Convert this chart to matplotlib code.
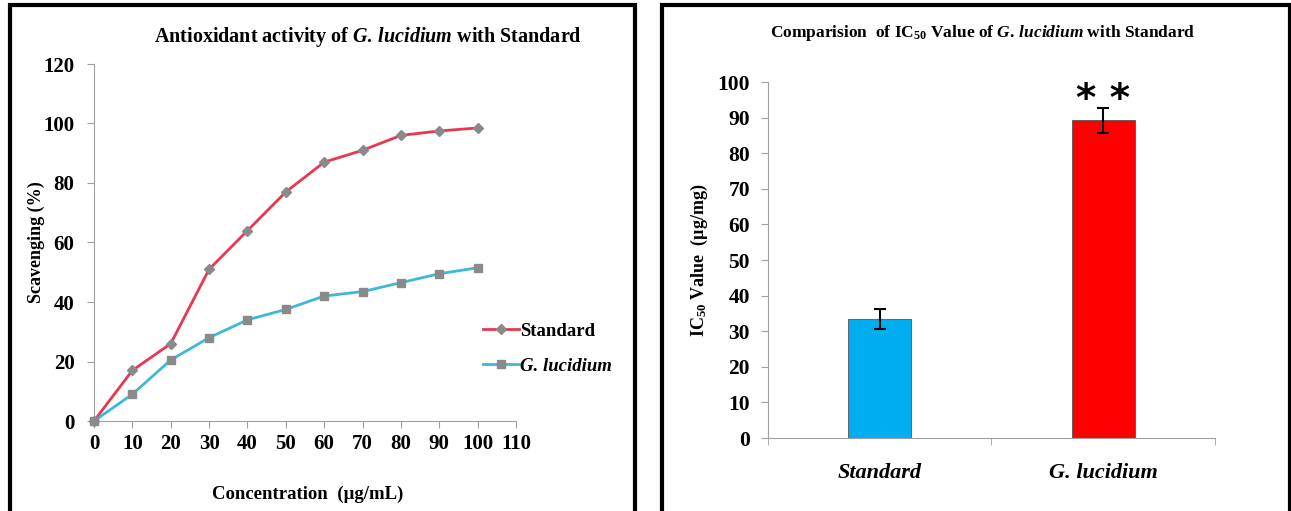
import matplotlib
matplotlib.use("Agg")
import matplotlib.pyplot as plt
from matplotlib.patches import Rectangle

# left panel data: scavenging (%) vs concentration (ug/mL)
conc = [0, 10, 20, 30, 40, 50, 60, 70, 80, 90, 100]
standard = [0, 17, 26, 51, 64, 77, 87, 91, 96, 97.5, 98.5]
lucidium = [0, 9, 20.5, 28, 34, 37.5, 42, 43.5, 46.5, 49.5, 51.5]

# right panel data: IC50 values
groups = ["Standard", "G. lucidium"]
ic50 = [33.4, 89.3]
ic50_err = [2.8, 3.5]
bar_colors = ["#00AEEF", "#FF0000"]

plt.rcParams["font.family"] = ["Liberation Serif", "DejaVu Serif"]
plt.rcParams["font.weight"] = "bold"
plt.rcParams["mathtext.fontset"] = "custom"
plt.rcParams["mathtext.rm"] = "Liberation Serif:weight=bold"
plt.rcParams["mathtext.it"] = "Liberation Serif:style=italic:weight=bold"
plt.rcParams["mathtext.bf"] = "Liberation Serif:weight=bold"

W, H = 1291, 511
fig = plt.figure(figsize=(W / 100, H / 100), dpi=100)


def fx(px):
    return px / W


def fy(py):
    return 1 - py / H


# panel borders
for x0, x1 in [(10, 635), (662, 1290)]:
    fig.patches.append(Rectangle((fx(x0), fy(H + 10)), fx(x1 - x0), (H + 5) / H,
                                 transform=fig.transFigure, fill=False,
                                 edgecolor="black", lw=3))

spine_col = "#a0a0a0"

# ---- left: line chart ----
ax1 = fig.add_axes([fx(94), fy(421), fx(516 - 94), (421 - 64) / H])
ax1.plot(conc, standard, color="#E8384F", lw=2, marker="D", ms=5,
         mfc="#8a8a8a", mec="#8a8a8a", label="Standard", clip_on=False, zorder=3)
ax1.plot(conc, lucidium, color="#3DB8DA", lw=2, marker="s", ms=5.5,
         mfc="#8a8a8a", mec="#8a8a8a", label="G. lucidium", clip_on=False, zorder=3)
ax1.set_xlim(0, 110)
ax1.set_ylim(0, 120)
ax1.set_xticks(range(0, 111, 10))
ax1.set_yticks(range(0, 121, 20))
for s in ["top", "right"]:
    ax1.spines[s].set_visible(False)
for s in ["left", "bottom"]:
    ax1.spines[s].set_color(spine_col)
ax1.tick_params(colors=spine_col, labelcolor="black", labelsize=15, length=5)
ax1.tick_params(axis="x", pad=4)
ax1.tick_params(axis="y", pad=9)
ax1.set_xlabel("Concentration  (µg/mL)", fontsize=13.5, fontweight="bold")
ax1.xaxis.set_label_coords((308 - 94) / 422, (421 - 486) / 357)
ax1.set_ylabel("Scavenging (%)", fontsize=13, fontweight="bold")
ax1.yaxis.set_label_coords((45 - 94) / 422, 0.5)
fig.text(fx(368), fy(37), r"Antioxidant activity of $\mathit{G.\,lucidium}$ with Standard",
         fontsize=14.5, fontweight="bold", ha="center", va="center")
leg = ax1.legend(loc="upper left", bbox_to_anchor=(fx(466), fy(306)),
                 bbox_transform=fig.transFigure, frameon=False, fontsize=13.5,
                 handlelength=1.9, handletextpad=0.1, labelspacing=0.95)
leg.get_texts()[1].set_fontstyle("italic")

# ---- right: bar chart ----
ax2 = fig.add_axes([fx(768), fy(438), fx(1215 - 768), (438 - 82) / H])
xpos = list(range(len(groups)))
ax2.bar(xpos, ic50, width=0.28, color=bar_colors, edgecolor="#555555", lw=0.6,
        yerr=ic50_err, capsize=4, error_kw=dict(ecolor="black", elinewidth=1.5, capthick=1.5))
ax2.text(xpos[1], ic50[1] + 0.2, "* *", ha="center", va="bottom",
         fontsize=28, fontweight="bold", family="DejaVu Sans")
ax2.set_xlim(-0.5, 1.5)
ax2.set_ylim(0, 100)
ax2.set_yticks(range(0, 101, 10))
ax2.set_xticks(xpos)
ax2.set_xticklabels(groups, fontstyle="italic", fontsize=16)
ax2.set_xticks([-0.5, 0.5, 1.5], minor=True)
ax2.tick_params(axis="x", which="major", length=0, pad=18)
ax2.tick_params(axis="x", which="minor", length=5, colors=spine_col)
ax2.tick_params(axis="y", colors=spine_col, labelcolor="black", labelsize=15.5, length=5, pad=8)
for s in ["top", "right"]:
    ax2.spines[s].set_visible(False)
for s in ["left", "bottom"]:
    ax2.spines[s].set_color(spine_col)
ax2.set_ylabel(r"IC$_{50}$ Value  (µg/mg)", fontsize=13, fontweight="bold")
ax2.yaxis.set_label_coords((710 - 768) / 447, 0.5)
fig.text(fx(983), fy(33),
         r"Comparision  of IC$_{50}$ Value of $\mathit{G.\,lucidium}$ with Standard",
         fontsize=12.5, fontweight="bold", ha="center", va="center")

fig.savefig("out.png", dpi=100)
